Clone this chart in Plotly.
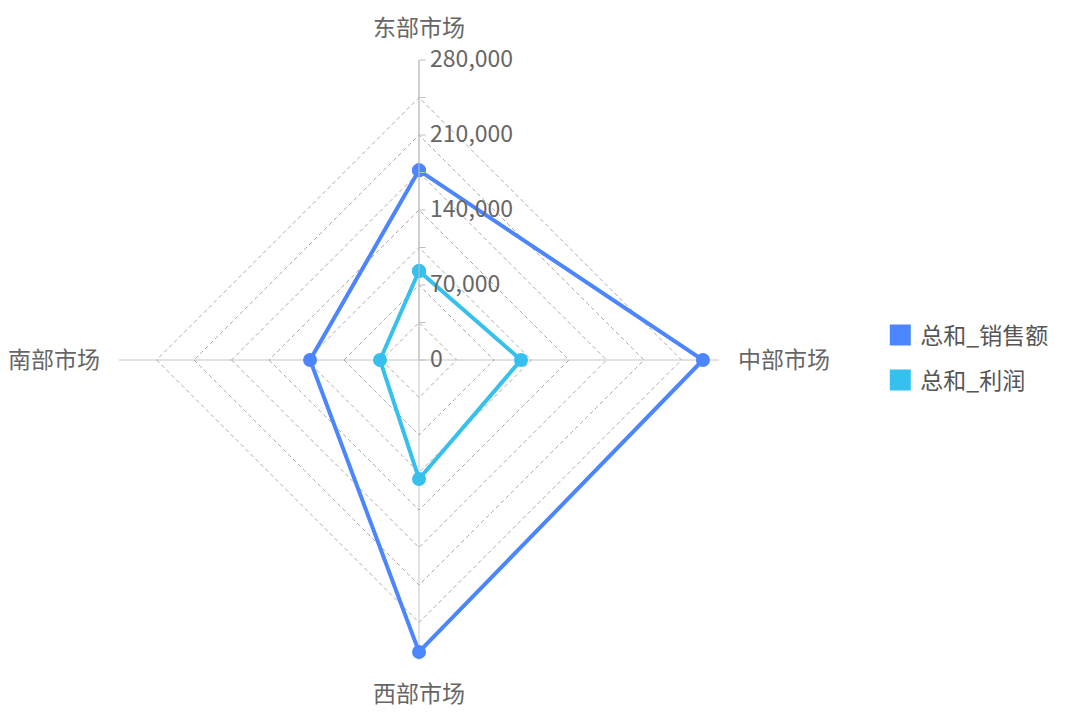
import plotly.graph_objects as go

categories = ["东部市场", "中部市场", "西部市场", "南部市场"]
sales = [177000, 265000, 272500, 101700]
profit = [83000, 95200, 111000, 36400]
series_names = ["总和_销售额", "总和_利润"]
series_colors = ["#4C86FF", "#36C0EE"]
tick_vals = [0, 35000, 70000, 105000, 140000, 175000, 210000, 245000, 280000]
tick_text = ["0", "", "70,000", "", "140,000", "", "210,000", "", "280,000"]

FONT = "Noto Sans CJK SC"
W, H = 1069, 718
cx, cy, R = 411, 352, 300

fig = go.Figure()
for vals, name, color in zip([sales, profit], series_names, series_colors):
    fig.add_trace(go.Scatterpolar(
        r=vals + vals[:1], theta=categories + categories[:1],
        mode="lines+markers", name=name, showlegend=False,
        line=dict(color=color, width=4),
        marker=dict(color=color, size=14),
    ))
for i, (name, color) in enumerate(zip(series_names, series_colors)):
    fig.add_trace(go.Scatterpolar(
        r=[None], theta=[categories[0]], mode="markers", name=name,
        legendgroup=f"g{i}",
        marker=dict(color=color, size=16, symbol="square",
                    line=dict(color=color, width=5)),
    ))

fig.update_layout(
    width=W, height=H,
    margin=dict(l=0, r=0, t=0, b=0),
    paper_bgcolor="white", plot_bgcolor="white",
    font=dict(family=FONT, size=23, color="#666666"),
    polar=dict(
        domain=dict(x=[(cx - R) / W, (cx + R) / W], y=[(H - cy - R) / H, (H - cy + R) / H]),
        gridshape="linear",
        bgcolor="white",
        radialaxis=dict(
            range=[0, 280000], angle=90, tickangle=90,
            tickvals=tick_vals, ticktext=tick_text,
            showline=True, linecolor="#BDBDBD", linewidth=1,
            gridcolor="#ABABAB", griddash="4px,3px", gridwidth=1,
            ticks="outside", ticklen=6, tickcolor="#BDBDBD",
            tickfont=dict(size=23, color="#666666"),
            side="clockwise",
        ),
        angularaxis=dict(
            direction="clockwise", rotation=90,
            showline=False, gridcolor="#C4C4C4", gridwidth=1,
            ticks="outside", ticklen=14, tickcolor="rgba(0,0,0,0)",
            tickfont=dict(size=23, color="#666666"),
        ),
    ),
    legend=dict(
        x=0.816, y=0.513, xanchor="left", yanchor="middle",
        font=dict(size=23, color="#555555"),
        itemwidth=30, tracegroupgap=12,
    ),
)

fig.write_html("out.html")
